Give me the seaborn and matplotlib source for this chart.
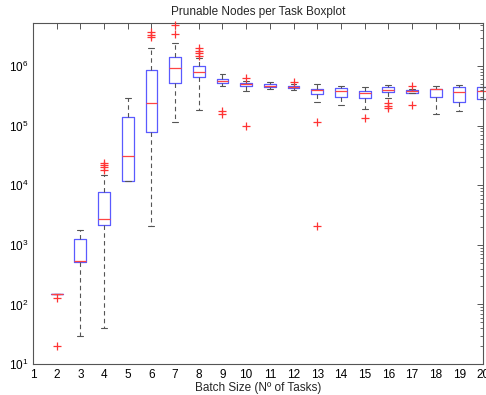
import matplotlib
matplotlib.use("Agg")
import matplotlib.pyplot as plt
from matplotlib.ticker import LogLocator, NullLocator, FixedLocator
import seaborn as sns
import pandas as pd

# Per batch size summary statistics (Prunable nodes per task)
batch_sizes = [2, 3, 4, 5, 6, 7, 8, 9, 10, 11, 12, 13, 14, 15, 16, 17, 18, 19, 20]
whisker_low = [147, 29.4, 40.6, 11950, 2050, 117500, 182000, 471000, 389000, 408000,
               393000, 251000, 224000, 188000, 293000, 360000, 158000, 175000, 283000]
q1 = [147, 517, 2128, 11950, 79000, 524000, 658000, 524000, 466000, 448000,
      431000, 342000, 305000, 289000, 370000, 360000, 301000, 254000, 283000]
medians = [147, 537, 2754, 30500, 242000, 933000, 805000, 561000, 503000, 471000,
           453000, 404000, 384000, 360000, 404000, 384000, 408000, 370000, 379000]
q3 = [147, 1274, 7690, 142600, 863000, 1440000, 1000000, 611000, 529000, 496000,
      471000, 420000, 436000, 389000, 448000, 399000, 420000, 448000, 448000]
whisker_high = [147, 1803, 14650, 293000, 2020000, 2410000, 1350000, 729000, 572000, 543000,
                503000, 503000, 466000, 448000, 484000, 420000, 459000, 484000, 448000]
outliers = [
    [126, 20],
    [],
    [23300, 21500, 19900, 17800],
    [],
    [3700000, 3370000, 3060000],
    [4960000, 3470000],
    [2010000, 1830000, 1660000, 1490000],
    [175000, 158000],
    [634000, 100700],
    [],
    [550000],
    [117500, 2050],
    [],
    [135600],
    [242000, 218000, 199000],
    [471000, 220000],
    [],
    [],
    [],
]

x_ticks = list(range(1, 21))

sns.set_style("white")
plt.rcParams["font.family"] = ["Liberation Sans", "DejaVu Sans"]
plt.rcParams["mathtext.default"] = "regular"

fig = plt.figure(figsize=(4.86, 3.95), dpi=100)
ax = fig.add_axes([33 / 486, 31 / 395, 450 / 486, 341 / 395])

stats = [
    dict(whislo=lo, q1=a, med=m, q3=b, whishi=hi, fliers=[])
    for lo, a, m, b, hi in zip(whisker_low, q1, medians, q3, whisker_high)
]
arts = ax.bxp(
    stats, positions=batch_sizes, widths=0.5, capwidths=0.25,
    showfliers=False, manage_ticks=False,
    boxprops=dict(color="#5a5aff", linewidth=0.9),
    medianprops=dict(color="#ff4444", linewidth=0.9),
    whiskerprops=dict(color="#555555", linewidth=0.8, linestyle=(0, (4, 3))),
    capprops=dict(color="#555555", linewidth=0.8),
)
for group in arts.values():
    for artist in group:
        artist.set_clip_on(False)

flier_df = pd.DataFrame(
    [(b, v) for b, vals in zip(batch_sizes, outliers) for v in vals],
    columns=["batch", "nodes"],
)
sns.scatterplot(data=flier_df, x="batch", y="nodes", marker="+", color="#ff3333",
                s=40, linewidth=0.9, ax=ax, zorder=4, clip_on=False)

ax.set_yscale("log")
ax.set_xlim(1, 20)
ax.set_ylim(10, 5.3e6)
ax.xaxis.set_major_locator(FixedLocator(x_ticks))
ax.set_xticklabels([str(t) for t in x_ticks])
ax.xaxis.set_minor_locator(NullLocator())
ax.yaxis.set_major_locator(LogLocator(base=10, numticks=10))
ax.yaxis.set_minor_locator(LogLocator(base=10, subs=range(2, 10), numticks=20))

ax.tick_params(which="both", direction="in", top=True, right=True,
               colors="#555555", labelcolor="black", labelsize=8.5)
ax.tick_params(which="major", length=4, width=0.7)
ax.tick_params(which="minor", length=2, width=0.6)
for s in ax.spines.values():
    s.set_color("#555555")
    s.set_linewidth(0.8)

ax.set_xlabel("Batch Size (Nº of Tasks)", fontsize=8.5, labelpad=1)
ax.set_ylabel("")
ax.set_title("Prunable Nodes per Task Boxplot", fontsize=8.5, pad=6)

fig.savefig("out.png", dpi=100)
